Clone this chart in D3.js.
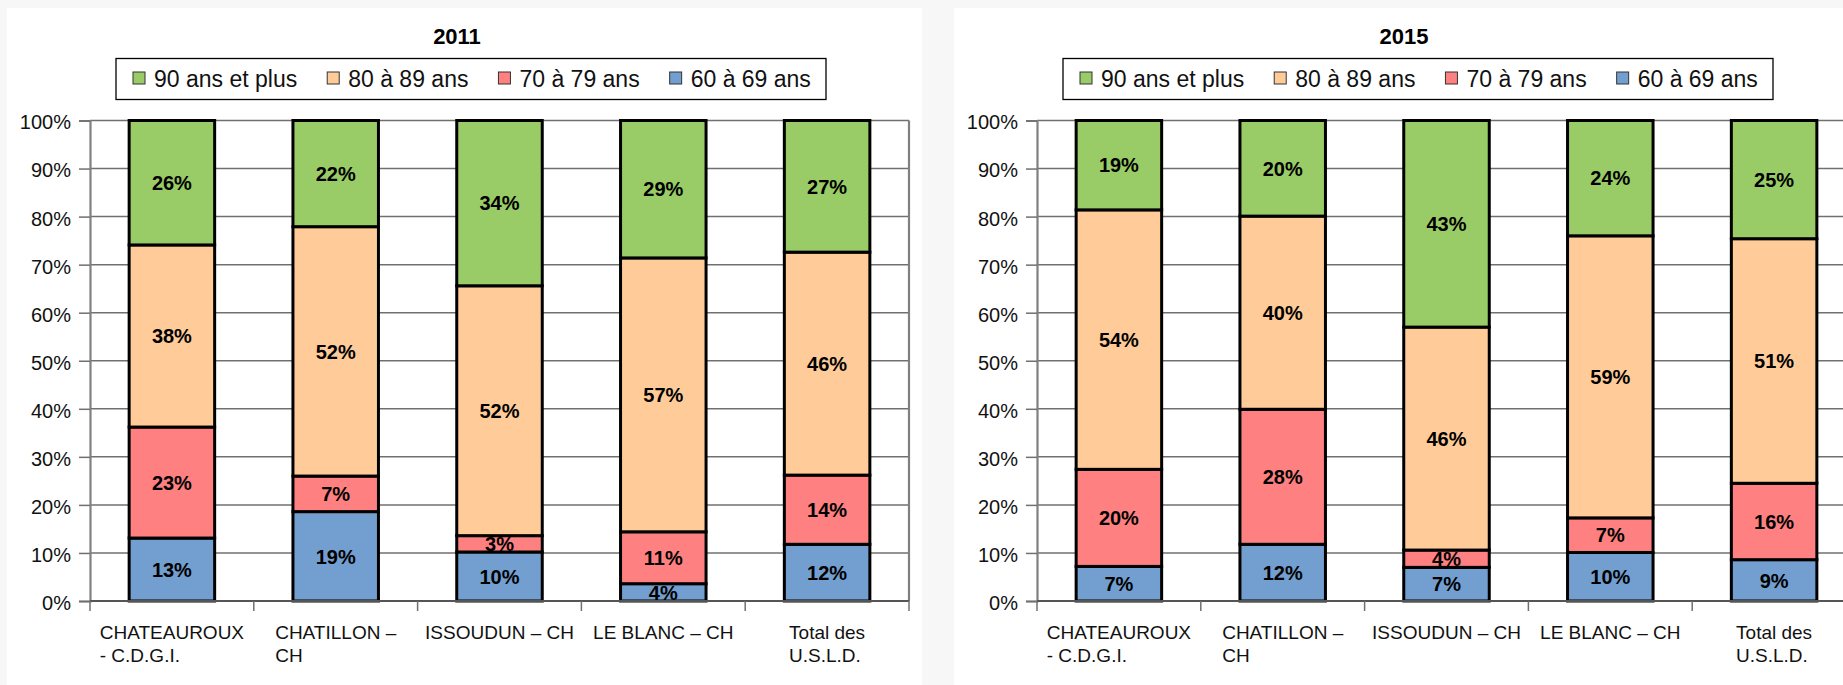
<!DOCTYPE html>
<html>
<head>
<meta charset="utf-8">
<script src="https://cdn.jsdelivr.net/npm/d3@7"></script>
<style>
  html, body { margin: 0; padding: 0; background: #f7f7f7; }
  svg { display: block; font-family: "Liberation Sans", Arial, sans-serif; }
</style>
</head>
<body>
<svg id="chart" width="1843" height="685"></svg>
<script>
// ---------- DATA ----------
const categoryLines = [
  ["CHATEAUROUX", "- C.D.G.I."],
  ["CHATILLON –", "CH"],
  ["ISSOUDUN – CH"],
  ["LE BLANC – CH"],
  ["Total des", "U.S.L.D."]
];
const seriesNames = ["60 à 69 ans", "70 à 79 ans", "80 à 89 ans", "90 ans et plus"];
const seriesColors = ["#729fcf", "#ff8080", "#ffcc99", "#99cc66"];
const yTicks = [0, 10, 20, 30, 40, 50, 60, 70, 80, 90, 100];
const years = ["2011", "2015"];

const v2011_60 = [13.1, 18.6, 10.2, 3.6, 11.8];
const v2011_70 = [23.1, 7.4, 3.4, 10.8, 14.4];
const v2011_80 = [37.9, 51.9, 52.0, 57.0, 46.4];
const v2011_90 = [25.9, 22.1, 34.4, 28.6, 27.4];

const v2015_60 = [7.2, 11.8, 7.0, 10.1, 8.6];
const v2015_70 = [20.2, 28.1, 3.6, 7.2, 15.9];
const v2015_80 = [54.0, 40.2, 46.4, 58.7, 50.9];
const v2015_90 = [18.6, 19.9, 43.0, 24.0, 24.6];

const panelSeries = [
  [v2011_60, v2011_70, v2011_80, v2011_90],
  [v2015_60, v2015_70, v2015_80, v2015_90]
];

// ---------- LAYOUT ----------
const svg = d3.select("#chart");
const panelOffsets = [0, 947];
const plotL = 90, plotR = 909, plotT = 120.5, plotB = 601;
const gridColor = "#707070";

svg.append("rect").attr("x", 0).attr("y", 0).attr("width", 1843).attr("height", 685).attr("fill", "#f7f7f7");

years.forEach((year, pi) => {
  const g = svg.append("g").attr("transform", `translate(${panelOffsets[pi]},0)`);
  g.append("rect").attr("x", 7).attr("y", 8).attr("width", 915).attr("height", 690).attr("fill", "#ffffff");

  const rows = categoryLines.map((lines, i) => {
    const r = { idx: i };
    seriesNames.forEach((s, k) => r[s] = panelSeries[pi][k][i]);
    return r;
  });
  const stacked = d3.stack().keys(seriesNames)(rows);

  const x = d3.scaleBand().domain(d3.range(categoryLines.length))
    .range([plotL, plotR]).paddingInner(0.478).paddingOuter(0.239);
  const y = d3.scaleLinear().domain([0, 100]).range([plotB, plotT]);

  // gridlines
  g.append("g").selectAll("line").data(yTicks).join("line")
    .attr("x1", plotL).attr("x2", plotR)
    .attr("y1", d => y(d)).attr("y2", d => y(d))
    .attr("stroke", gridColor).attr("stroke-width", 1.5);

  // y axis
  const yAxis = g.append("g").attr("transform", `translate(${plotL},0)`)
    .call(d3.axisLeft(y).tickValues(yTicks).tickFormat(d => d + "%").tickSize(11).tickPadding(8));
  yAxis.select(".domain").attr("stroke", "#808080").attr("stroke-width", 2.2);
  yAxis.selectAll(".tick line").attr("stroke", gridColor).attr("stroke-width", 1.5);
  yAxis.selectAll(".tick text").attr("font-size", 20).attr("fill", "#111")
    .attr("font-family", "Liberation Sans, Arial, sans-serif").attr("dy", "0.42em");

  // right border
  g.append("line").attr("x1", plotR).attr("x2", plotR).attr("y1", plotT).attr("y2", plotB)
    .attr("stroke", "#808080").attr("stroke-width", 2.2);

  // bars
  g.append("g").selectAll("g").data(stacked).join("g")
    .attr("fill", (d, k) => seriesColors[k])
    .selectAll("rect").data(d => d).join("rect")
    .attr("x", (d, i) => x(i))
    .attr("width", x.bandwidth())
    .attr("y", d => y(d[1]))
    .attr("height", d => y(d[0]) - y(d[1]))
    .attr("stroke", "#000").attr("stroke-width", 3);

  // x axis baseline + boundary ticks
  const boundaries = d3.range(categoryLines.length + 1).map(i => plotL + i * x.step());
  g.append("line").attr("x1", plotL).attr("x2", plotR).attr("y1", plotB).attr("y2", plotB)
    .attr("stroke", "#555").attr("stroke-width", 2);
  g.append("g").selectAll("line").data(boundaries).join("line")
    .attr("x1", d => d).attr("x2", d => d).attr("y1", plotB).attr("y2", plotB + 10)
    .attr("stroke", gridColor).attr("stroke-width", 1.5);

  // data labels
  stacked.forEach((layer) => {
    g.append("g").selectAll("text").data(layer).join("text")
      .attr("x", (d, i) => x(i) + x.bandwidth() / 2)
      .attr("y", d => y((d[0] + d[1]) / 2))
      .attr("dy", "0.36em")
      .attr("text-anchor", "middle")
      .attr("font-size", 20).attr("font-weight", "bold").attr("fill", "#000")
      .text(d => Math.round(d[1] - d[0]) + "%");
  });

  // category labels (block centered, lines left-aligned)
  categoryLines.forEach((lines, i) => {
    const t = g.append("text").attr("font-size", 19).attr("fill", "#111");
    lines.forEach((ln, j) => {
      t.append("tspan").attr("y", 639 + j * 22.5).text(ln);
    });
    const w = d3.max(t.selectAll("tspan").nodes(), n => n.getComputedTextLength());
    const cx = x(i) + x.bandwidth() / 2;
    t.selectAll("tspan").attr("x", cx - w / 2);
  });

  // title
  g.append("text").attr("x", 457).attr("y", 44).attr("text-anchor", "middle")
    .attr("font-size", 22).attr("font-weight", "bold").attr("fill", "#000").text(year);

  // legend
  const legendOrder = [3, 2, 1, 0];
  const lg = g.append("g");
  let cur = 133;
  legendOrder.forEach((k, n) => {
    lg.append("rect").attr("x", cur).attr("y", 72).attr("width", 12).attr("height", 12)
      .attr("fill", seriesColors[k]).attr("stroke", "#333").attr("stroke-width", 1);
    const tt = lg.append("text").attr("x", cur + 21).attr("y", 86.8)
      .attr("font-size", 23).attr("fill", "#111").text(seriesNames[k]);
    cur = cur + 21 + tt.node().getComputedTextLength() + 30;
  });
  const legEnd = Math.min(cur - 30 + 16, 826);
  lg.insert("rect", ":first-child").attr("x", 116).attr("y", 58.5)
    .attr("width", legEnd - 116).attr("height", 41)
    .attr("fill", "#fff").attr("stroke", "#000").attr("stroke-width", 1.3);
});
</script>
</body>
</html>
